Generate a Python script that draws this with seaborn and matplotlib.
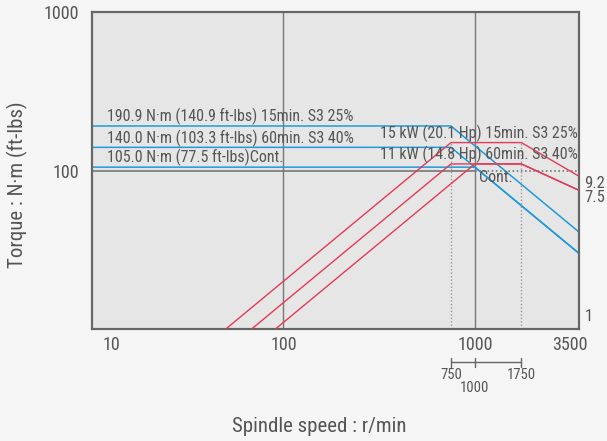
import numpy as np
import pandas as pd
import matplotlib
matplotlib.use("Agg")
import matplotlib.pyplot as plt
import matplotlib.transforms as mtransforms
import seaborn as sns

# ---- data ----
torque_15_speed = [10, 750, 3500]
torque_15_val = [190.9, 190.9, 40.9]
torque_60_speed = [10, 750, 3500]
torque_60_val = [140.0, 140.0, 30.0]
torque_cont_speed = [10, 1000, 3500]
torque_cont_val = [105.0, 105.0, 30.0]

power_15_speed = [50, 750, 1750, 3500]
power_15_val = [1.0, 15.0, 15.0, 9.2]
power_60_speed = [68.2, 750, 1750, 3500]
power_60_val = [1.0, 11.0, 11.0, 7.5]
power_cont_speed = [90.9, 1000, 1750, 3500]
power_cont_val = [1.0, 11.0, 11.0, 7.5]

x_ticks = [10, 100, 1000, 3500]
x_tick_labels = ["10", "100", "1000", "3500"]
y_ticks = [100, 1000]
y_tick_labels = ["100", "1000"]
right_ticks = [1, 7.5, 9.2]
right_tick_labels = ["1", "7.5", "9.2"]
base_speeds = [750, 1000, 1750]
base_labels = ["750", "1000", "1750"]

torque_texts = ["190.9 N·m (140.9 ft-lbs) 15min. S3 25%",
                "140.0 N·m (103.3 ft-lbs) 60min. S3 40%",
                "105.0 N·m (77.5 ft-lbs)Cont."]
torque_text_vals = [190.9, 140.0, 105.0]
power_texts = ["15 kW (20.1 Hp) 15min. S3 25%", "11 kW (14.8 Hp) 60min. S3 40%"]
power_text_vals = [15, 11]

BLUE = "#1f9ad8"
RED = "#e33a55"
GRID = "#777777"
TXT = "#555555"

sns.set_style("white")
plt.rcParams["font.family"] = ["Liberation Sans Narrow", "Roboto Condensed", "Lato", "DejaVu Sans"]
FS = 11.5
TFS = 13

fig = plt.figure(figsize=(6.07, 4.41), dpi=100)
fig.patch.set_facecolor("#f5f5f5")
ax = fig.add_axes([92 / 607, 1 - 329 / 441, (579 - 92) / 607, (329 - 12) / 441])
ax.set_facecolor("#e6e6e6")
ax.set_xscale("log")
ax.set_yscale("log")
ax.set_xlim(10, 3500)
ax.set_ylim(10, 1000)

ax2 = ax.twinx()
ax2.set_yscale("log")
ax2.set_ylim(1, 100)

# grid
for v in [100, 1000]:
    ax.axvline(v, color=GRID, lw=1.0, zorder=1)
ax.plot([10, 1000], [100, 100], color=GRID, lw=1.2, zorder=1)
ax.plot([1000, 3500], [100, 100], color=GRID, lw=1.2, ls=(0, (1, 1.5)), zorder=1)
for v in [750, 1750]:
    ax2.plot([v, v], [1, 15], color="#999999", lw=1.0, ls=(0, (1, 1.5)), zorder=1)

# torque lines
for sp, val in [(torque_15_speed, torque_15_val), (torque_60_speed, torque_60_val),
                (torque_cont_speed, torque_cont_val)]:
    sns.lineplot(x=sp, y=val, ax=ax, color=BLUE, lw=1.1, sort=False, zorder=3)

# power lines
for sp, val in [(power_15_speed, power_15_val), (power_60_speed, power_60_val),
                (power_cont_speed, power_cont_val)]:
    sns.lineplot(x=sp, y=val, ax=ax2, color=RED, lw=1.0, sort=False, zorder=3)
ax2.set_ylim(1, 100)

# texts
for t, v in zip(torque_texts, torque_text_vals):
    ax.text(12, v * 1.01, t, ha="left", va="bottom", fontsize=FS, color=TXT, zorder=4)
for t, v in zip(power_texts, power_text_vals):
    ax2.text(3450, v * 1.01, t, ha="right", va="bottom", fontsize=FS, color=TXT, zorder=4)
ax.text(1050, 101, "Cont.", ha="left", va="top", fontsize=FS, color=TXT, zorder=4)

# axes ticks
ax.set_xticks(x_ticks)
ax.set_xticklabels(x_tick_labels)
ax.minorticks_off()
ax.set_yticks(y_ticks)
ax.set_yticklabels(y_tick_labels)
ax.tick_params(axis="both", length=0, labelsize=TFS, labelcolor=TXT)
ax.tick_params(axis="x", pad=5)
ax.tick_params(axis="y", pad=9)
for lab in ax.get_xticklabels():
    if lab.get_text() == "10":
        lab.set_transform(lab.get_transform() + mtransforms.ScaledTranslation(19 / 100, 0, fig.dpi_scale_trans))
    if lab.get_text() == "3500":
        lab.set_transform(lab.get_transform() + mtransforms.ScaledTranslation(-9 / 100, 0, fig.dpi_scale_trans))

ax2.set_yticks(right_ticks)
ax2.set_yticklabels(right_tick_labels)
ax2.yaxis.set_minor_locator(matplotlib.ticker.NullLocator())
ax2.tick_params(axis="y", length=0, labelsize=12, labelcolor=TXT, pad=4)
for lab in ax2.get_yticklabels():
    if lab.get_text() == "1":
        lab.set_transform(lab.get_transform() + mtransforms.ScaledTranslation(0, 14 / 100, fig.dpi_scale_trans))
    else:
        lab.set_transform(lab.get_transform() + mtransforms.ScaledTranslation(0, -6 / 100, fig.dpi_scale_trans))

for a in (ax, ax2):
    for s in a.spines.values():
        s.set_color("#666666")
        s.set_linewidth(1.5)
    a.grid(False)

ax.set_ylabel("Torque : N·m (ft-lbs)", fontsize=15, color=TXT)
ax.yaxis.set_label_coords((17 - 92) / 487, (329 - 185) / 317)
ax.set_xlabel("Spindle speed : r/min", fontsize=15, color=TXT)
ax.xaxis.set_label_coords((319 - 92) / 487, (329 - 426) / 317)
ax.xaxis.label.set_va("center")
ax.yaxis.label.set_va("center")

# base speed bracket below axis
trans = mtransforms.blended_transform_factory(ax.transData, ax.transAxes)
yb = -33 / 317
ax.plot([base_speeds[0], base_speeds[-1]], [yb, yb], transform=trans, color="#666666", lw=1.0, clip_on=False)
for sp in base_speeds:
    ax.plot([sp, sp], [yb - 5 / 317, yb + 4.5 / 317], transform=trans, color="#666666", lw=1.0, clip_on=False)
for sp, lab in zip(base_speeds, base_labels):
    dy = -26 / 317 if lab == "1000" else -13 / 317
    ax.text(sp, yb + dy, lab, transform=trans, ha="center", va="center", fontsize=10.5, color=TXT, clip_on=False)

fig.savefig("out.png", dpi=100, facecolor=fig.get_facecolor())
